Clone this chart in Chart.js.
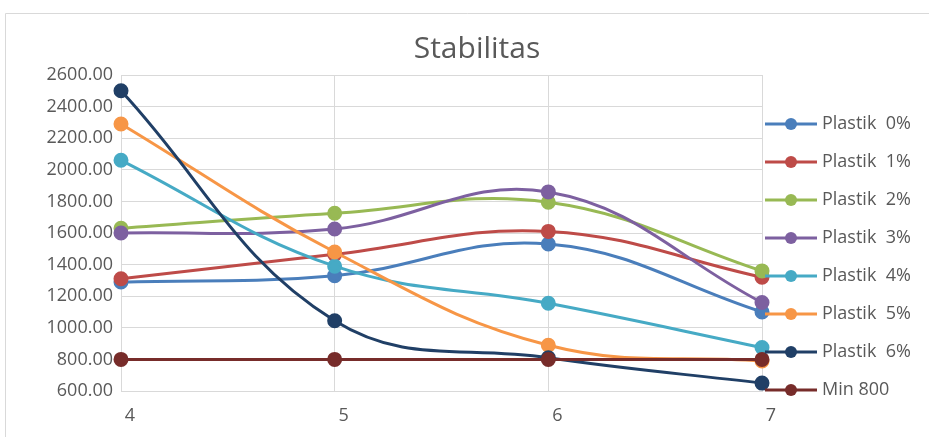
<!DOCTYPE html>
<html>
<head>
<meta charset="utf-8">
<title>Stabilitas</title>
<script src="https://cdn.jsdelivr.net/npm/chart.js@4"></script>
<style>
  html, body { margin: 0; padding: 0; background: #ffffff; }
  #wrap { position: relative; width: 929px; height: 437px; }
</style>
</head>
<body>
<div id="wrap"><canvas id="chart" width="929" height="437"></canvas></div>
<script>
// Categories (x axis) and y tick range
const categories = ['4', '5', '6', '7'];
const yMin = 600;
const yMax = 2600;
const yStep = 200;

const chartTitle = 'Stabilitas';

// Series names
const seriesNames = ['Plastik  0%', 'Plastik  1%', 'Plastik  2%', 'Plastik  3%',
                     'Plastik  4%', 'Plastik  5%', 'Plastik  6%', 'Min 800'];

// Series values
const plastik0 = [1290, 1330, 1530, 1100];
const plastik1 = [1310, 1465, 1610, 1320];
const plastik2 = [1630, 1725, 1795, 1360];
const plastik3 = [1600, 1625, 1860, 1160];
const plastik4 = [2060, 1390, 1155, 875];
const plastik5 = [2290, 1480, 890, 790];
const plastik6 = [2500, 1045, 810, 650];
const min800   = [800, 800, 800, 800];

const seriesValues = [plastik0, plastik1, plastik2, plastik3, plastik4, plastik5, plastik6, min800];
const seriesColors = ['#4A7EBB', '#BE4B48', '#98B954', '#7D60A0', '#46AAC5', '#F79646', '#203F66', '#772C2A'];

const FONT = "'Open Sans', sans-serif";
const TEXT = '#595959';
const GRID = '#D9D9D9';

const datasets = seriesValues.map((vals, i) => ({
  label: seriesNames[i],
  data: vals,
  borderColor: seriesColors[i],
  backgroundColor: seriesColors[i],
  pointBackgroundColor: seriesColors[i],
  pointBorderColor: seriesColors[i],
  borderWidth: 3,
  pointRadius: 6,
  pointHoverRadius: 6,
  tension: 0.4,
  fill: false,
  // later series are painted over earlier ones
  order: seriesValues.length - i
}));

// Outer frame of the chart object and the centred title
const framePlugin = {
  id: 'frame',
  beforeDraw(chart) {
    const ctx = chart.ctx;
    ctx.save();
    ctx.strokeStyle = '#D9D9D9';
    ctx.lineWidth = 1;
    ctx.beginPath();
    ctx.moveTo(5.5, chart.height);
    ctx.lineTo(5.5, 13.5);
    ctx.lineTo(chart.width, 13.5);
    ctx.stroke();
    ctx.fillStyle = TEXT;
    ctx.font = '30px ' + FONT;
    ctx.textAlign = 'center';
    ctx.textBaseline = 'alphabetic';
    ctx.fillText(chartTitle, 477, 58);
    ctx.restore();
  }
};

// Legend on the right: line sample with a marker, then the series name
const sideLegend = {
  id: 'sideLegend',
  afterDraw(chart) {
    const ctx = chart.ctx;
    const area = chart.chartArea;
    const x0 = area.right + 3;
    const y0 = area.top + 49;
    const gap = 38;
    ctx.save();
    chart.data.datasets.forEach((ds, i) => {
      const y = y0 + i * gap;
      ctx.strokeStyle = ds.borderColor;
      ctx.lineWidth = 3;
      ctx.beginPath();
      ctx.moveTo(x0, y);
      ctx.lineTo(x0 + 52, y);
      ctx.stroke();
      ctx.fillStyle = ds.borderColor;
      ctx.beginPath();
      ctx.arc(x0 + 26, y, 6, 0, Math.PI * 2);
      ctx.fill();
      ctx.fillStyle = TEXT;
      ctx.font = '18px ' + FONT;
      ctx.textBaseline = 'middle';
      ctx.textAlign = 'left';
      ctx.fillText(ds.label, x0 + 57, y);
    });
    ctx.restore();
  }
};

new Chart(document.getElementById('chart'), {
  type: 'line',
  data: { labels: categories, datasets: datasets },
  options: {
    responsive: false,
    animation: false,
    events: [],
    layout: { padding: { left: 10, right: 167, top: 75, bottom: 8 } },
    plugins: {
      legend: { display: false },
      tooltip: { enabled: false },
      title: { display: false }
    },
    scales: {
      x: {
        type: 'category',
        offset: false,
        grid: { color: GRID, lineWidth: 1, drawTicks: false },
        border: { color: GRID },
        ticks: { color: TEXT, font: { family: FONT, size: 18 }, padding: 14, maxRotation: 0, labelOffset: 9 },
        afterFit(scale) { scale.height = 38; }
      },
      y: {
        min: yMin,
        max: yMax,
        grid: { color: GRID, lineWidth: 1, drawTicks: false },
        border: { color: GRID },
        ticks: {
          stepSize: yStep,
          color: TEXT,
          font: { family: FONT, size: 18 },
          padding: 8,
          callback: v => Number(v).toFixed(2)
        },
        afterFit(scale) { scale.width = 111; }
      }
    }
  },
  plugins: [framePlugin, sideLegend]
});
</script>
</body>
</html>
